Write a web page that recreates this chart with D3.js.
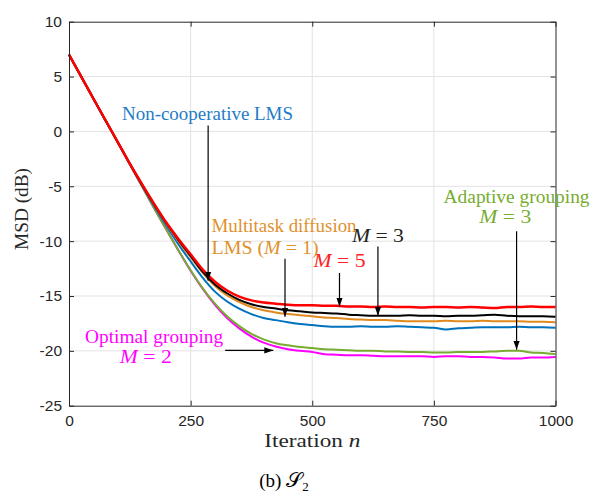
<!DOCTYPE html>
<html>
<head>
<meta charset="utf-8">
<script src="https://cdn.jsdelivr.net/npm/d3@7"></script>
<style>
  body { margin: 0; background: #fff; }
  .lbl { font-family: "Liberation Serif", "DejaVu Serif", serif; }
  .tick text { font-family: "Liberation Sans", Arial, sans-serif; font-size: 15.5px; fill: #262626; }
</style>
</head>
<body>
<div id="chart"></div>
<script>
// iterations sampled every 25
const iters = d3.range(0, 1001, 25);

const xTicks = [0, 250, 500, 750, 1000];
const yTicks = [10, 5, 0, -5, -10, -15, -20, -25];

// MSD (dB)
const msdMagenta = [7.0, 5.0, 3.0, 1.0, -1.0, -3.0, -5.0, -7.0, -8.95, -10.85, -12.7, -14.35, -15.8, -17.0, -17.95, -18.7, -19.25, -19.6, -19.85, -20.0,
  -20.1, -20.3, -20.35, -20.4, -20.4, -20.45, -20.5, -20.5, -20.5, -20.5, -20.55, -20.5, -20.5, -20.55, -20.55, -20.6, -20.7, -20.7, -20.6, -20.6, -20.55];
const msdGreen = [7.0, 5.0, 3.0, 1.0, -1.0, -3.0, -5.0, -7.0, -8.95, -10.85, -12.65, -14.3, -15.7, -16.85, -17.75, -18.45, -18.95, -19.3, -19.5, -19.65,
  -19.75, -19.85, -19.9, -19.95, -20.0, -20.0, -20.05, -20.05, -20.1, -20.1, -20.15, -20.15, -20.1, -20.1, -20.1, -20.05, -20.0, -20.0, -20.15, -20.2, -20.3];
const msdBlue = [7.0, 5.0, 3.0, 1.0, -0.97, -2.95, -4.9, -6.8, -8.6, -10.3, -11.85, -13.35, -14.6, -15.5, -16.15, -16.65, -17.0, -17.2, -17.4, -17.55,
  -17.65, -17.75, -17.8, -17.8, -17.75, -17.8, -17.8, -17.75, -17.8, -17.85, -17.9, -18.05, -17.95, -17.9, -17.85, -17.85, -17.85, -17.8, -17.85, -17.85, -17.9];
const msdOrange = [7.0, 5.0, 3.0, 1.0, -0.96, -2.94, -4.85, -6.65, -8.4, -10.0, -11.45, -12.9, -14.1, -14.95, -15.55, -16.0, -16.3, -16.5, -16.65, -16.75,
  -16.85, -16.95, -17.0, -17.1, -17.15, -17.2, -17.2, -17.25, -17.3, -17.3, -17.3, -17.25, -17.3, -17.3, -17.25, -17.3, -17.3, -17.3, -17.35, -17.35, -17.4];
const msdBlack = [7.0, 5.0, 3.0, 1.0, -0.96, -2.94, -4.85, -6.65, -8.35, -9.9, -11.35, -12.8, -13.95, -14.75, -15.35, -15.75, -16.0, -16.15, -16.3, -16.4,
  -16.5, -16.55, -16.6, -16.7, -16.75, -16.8, -16.8, -16.8, -16.75, -16.8, -16.8, -16.85, -16.8, -16.8, -16.75, -16.7, -16.8, -16.85, -16.85, -16.85, -16.9];
const msdRed = [7.0, 5.0, 3.0, 1.04, -0.95, -2.94, -4.8, -6.6, -8.3, -9.8, -11.2, -12.6, -13.7, -14.5, -15.05, -15.4, -15.6, -15.7, -15.8, -15.85,
  -15.85, -15.9, -15.9, -15.95, -15.95, -16.0, -15.95, -16.0, -16.0, -16.05, -16.0, -16.0, -16.05, -16.0, -16.05, -16.1, -16.0, -16.0, -15.95, -16.0, -16.0];

const series = [
  { values: msdMagenta, color: "#FF00FF", width: 2 },
  { values: msdGreen, color: "#77AC30", width: 2 },
  { values: msdBlue, color: "#0072BD", width: 2 },
  { values: msdOrange, color: "#DF8A1F", width: 2 },
  { values: msdBlack, color: "#000000", width: 2 },
  { values: msdRed, color: "#FF0000", width: 2.5 }
];

const width = 593, height = 492;
const x = d3.scaleLinear().domain([0, 1000]).range([69, 555.5]);
const y = d3.scaleLinear().domain([-25, 10]).range([405.7, 21.7]);

const svg = d3.select("#chart").append("svg")
  .attr("width", width)
  .attr("height", height);

svg.append("defs").append("marker")
  .attr("id", "head")
  .attr("viewBox", "0 0 10 10")
  .attr("refX", 10).attr("refY", 5)
  .attr("markerWidth", 9).attr("markerHeight", 9)
  .attr("markerUnits", "userSpaceOnUse")
  .attr("orient", "auto")
  .append("path")
  .attr("d", "M0,1.5 L10,5 L0,8.5 Z")
  .attr("fill", "#000");

// grid
svg.append("g").selectAll("line").data(xTicks.slice(1, -1)).join("line")
  .attr("x1", d => x(d)).attr("x2", d => x(d))
  .attr("y1", y(-25)).attr("y2", y(10))
  .attr("stroke", "#e3e3e3").attr("stroke-width", 1);
svg.append("g").selectAll("line").data(yTicks.slice(1, -1)).join("line")
  .attr("x1", x(0)).attr("x2", x(1000))
  .attr("y1", d => y(d)).attr("y2", d => y(d))
  .attr("stroke", "#e3e3e3").attr("stroke-width", 1);

// curves
const line = d3.line()
  .x((d, i) => x(iters[i]))
  .y(d => y(d))
  .curve(d3.curveMonotoneX);

svg.append("g").selectAll("path").data(series).join("path")
  .attr("d", d => line(d.values))
  .attr("fill", "none")
  .attr("stroke", d => d.color)
  .attr("stroke-width", d => d.width)
  .attr("stroke-linejoin", "round");

// axes
const fmt = d => String(d);
function styleAxis(g) {
  g.select(".domain").attr("stroke", "#262626");
  g.selectAll(".tick line").attr("stroke", "#262626");
}
svg.append("g").attr("transform", `translate(0,${y(-25)})`)
  .call(d3.axisBottom(x).tickValues(xTicks).tickSize(-5).tickSizeOuter(0).tickPadding(9).tickFormat(fmt))
  .call(styleAxis);
svg.append("g").attr("transform", `translate(${x(0)},0)`)
  .call(d3.axisLeft(y).tickValues(yTicks).tickSize(-5).tickSizeOuter(0).tickPadding(7).tickFormat(fmt))
  .call(styleAxis);
svg.append("g").attr("transform", `translate(0,${y(10)})`)
  .call(d3.axisTop(x).tickValues(xTicks).tickSize(-5).tickSizeOuter(0).tickFormat(""))
  .call(styleAxis);
svg.append("g").attr("transform", `translate(${x(1000)},0)`)
  .call(d3.axisRight(y).tickValues(yTicks).tickSize(-5).tickSizeOuter(0).tickFormat(""))
  .call(styleAxis);

// axis labels
svg.append("text").attr("class", "lbl")
  .attr("transform", "translate(28,209) rotate(-90)")
  .attr("text-anchor", "middle").attr("font-size", 18).attr("fill", "#262626")
  .attr("textLength", 82).attr("lengthAdjust", "spacingAndGlyphs")
  .text("MSD (dB)");
const xl = svg.append("text").attr("class", "lbl")
  .attr("x", x(500)).attr("y", 446.5)
  .attr("text-anchor", "middle").attr("font-size", 18).attr("fill", "#262626")
  .attr("textLength", 96).attr("lengthAdjust", "spacingAndGlyphs");
xl.append("tspan").text("Iteration ");
xl.append("tspan").attr("font-style", "italic").text("n");

const cap = svg.append("text").attr("class", "lbl")
  .attr("x", 284).attr("y", 486.5)
  .attr("text-anchor", "middle").attr("font-size", 19).attr("fill", "#000");
cap.append("tspan").text("(b)  ");
cap.append("tspan").attr("font-family", "'DejaVu Sans', 'Noto Sans', serif").attr("font-size", 21).text("\u{1D4AE}");
cap.append("tspan").attr("font-size", 13).attr("dy", 4).text("2");

// annotations: text lines in data coordinates, widths as measured
const notes = [
  { n: 109, v: 1.0, anchor: "start", color: "#1F7CC6", len: 171, parts: [["Non-cooperative LMS", false]] },
  { n: 293, v: -9.14, anchor: "start", color: "#E0912E", len: 145, parts: [["Multitask diffusion", false]] },
  { n: 293, v: -11.14, anchor: "start", color: "#E0912E", len: 107, parts: [["LMS (", false], ["M", true], [" = 1)", false]] },
  { n: 635, v: -10.06, anchor: "middle", color: "#222", len: 52, parts: [["M", true], [" = 3", false]] },
  { n: 556, v: -12.36, anchor: "middle", color: "#FF2020", len: 52, parts: [["M", true], [" = 5", false]] },
  { n: 920, v: -6.55, anchor: "middle", color: "#77AC30", len: 146, parts: [["Adaptive grouping", false]] },
  { n: 897, v: -8.34, anchor: "middle", color: "#77AC30", len: 52, parts: [["M", true], [" = 3", false]] },
  { n: 175, v: -19.3, anchor: "middle", color: "#FF00FF", len: 138, parts: [["Optimal grouping", false]] },
  { n: 158, v: -21.1, anchor: "middle", color: "#FF00FF", len: 52, parts: [["M", true], [" = 2", false]] }
];

notes.forEach(d => {
  const t = svg.append("text").attr("class", "lbl")
    .attr("x", x(d.n)).attr("y", y(d.v))
    .attr("text-anchor", d.anchor).attr("font-size", 18).attr("fill", d.color)
    .attr("textLength", d.len).attr("lengthAdjust", "spacingAndGlyphs");
  d.parts.forEach(p => {
    t.append("tspan").attr("font-style", p[1] ? "italic" : "normal").text(p[0]);
  });
});

// arrows
const arrows = [
  { n1: 286, v1: 0.55, n2: 286, v2: -13.6 },
  { n1: 444, v1: -11.6, n2: 444, v2: -16.9 },
  { n1: 635, v1: -10.5, n2: 635, v2: -16.8 },
  { n1: 556, v1: -12.9, n2: 556, v2: -15.97 },
  { n1: 920, v1: -9.1, n2: 920, v2: -19.9 },
  { n1: 321, v1: -19.95, n2: 420, v2: -19.95 }
];

svg.append("g").selectAll("line").data(arrows).join("line")
  .attr("x1", d => x(d.n1)).attr("y1", d => y(d.v1))
  .attr("x2", d => x(d.n2)).attr("y2", d => y(d.v2))
  .attr("stroke", "#000").attr("stroke-width", 1.2)
  .attr("marker-end", "url(#head)");
</script>
</body>
</html>
